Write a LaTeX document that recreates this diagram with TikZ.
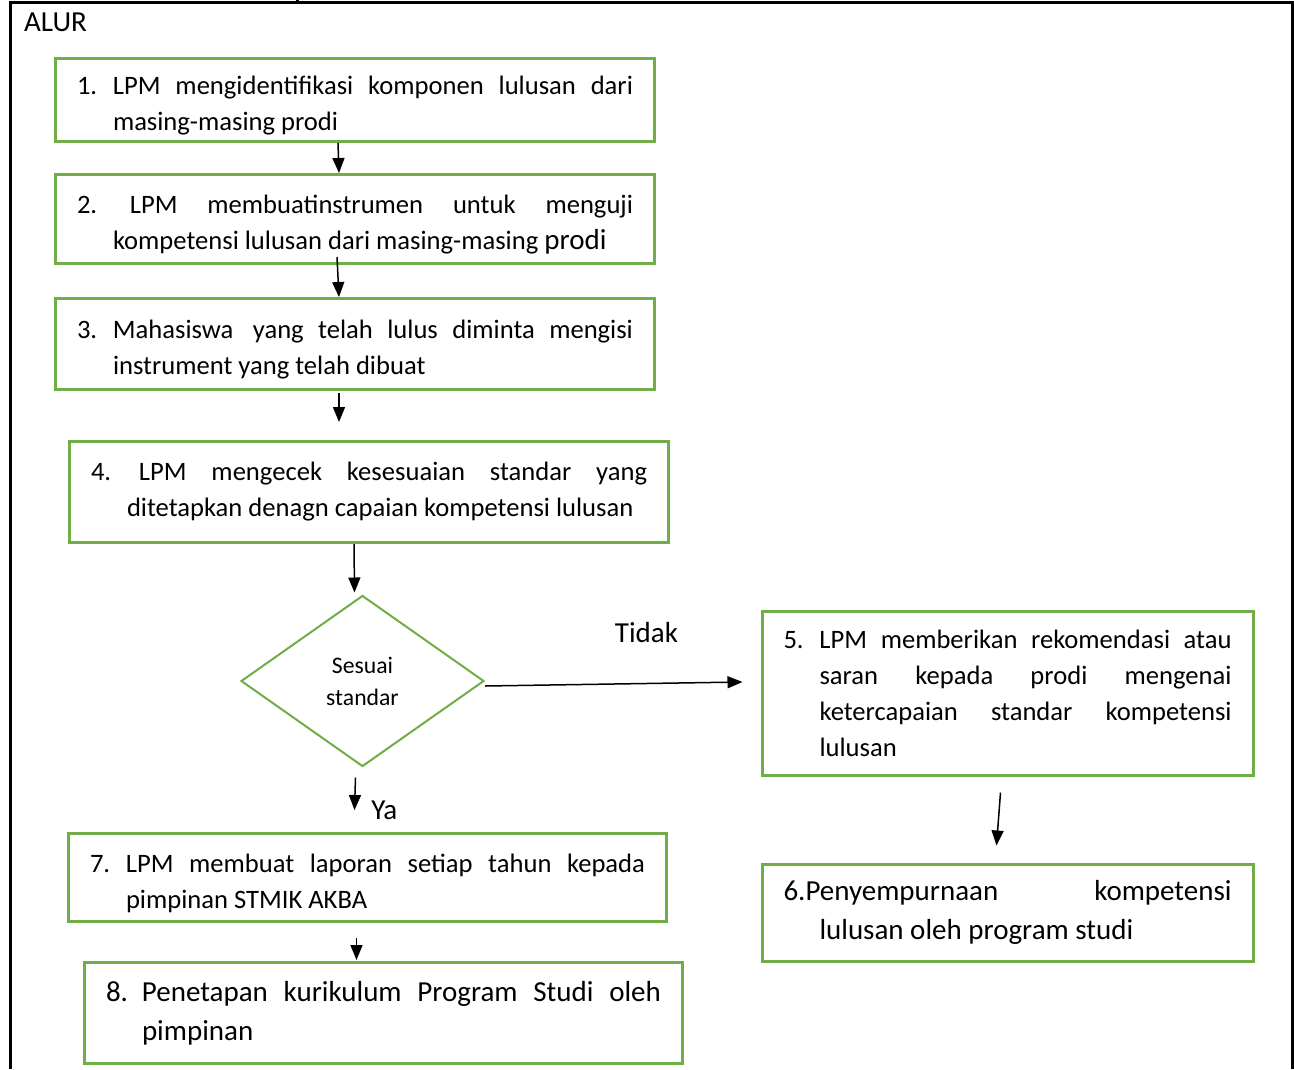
\documentclass[tikz,border=0pt]{standalone}
\usepackage{fontspec}
\setmainfont{Carlito}
\usepackage{xcolor}
\usetikzlibrary{arrows.meta, shapes.geometric, positioning}

\definecolor{boxgreen}{RGB}{112,173,71}
\newcommand{\txtnormal}{\fontsize{26.6pt}{36pt}\selectfont}
\newcommand{\txtbig}{\fontsize{29pt}{39pt}\selectfont}
\newcommand{\txtsmall}{\fontsize{23.7pt}{32pt}\selectfont}
\newcommand{\numtext}[2]{\hangindent=36pt\hangafter=1\noindent\makebox[36pt][l]{#1}#2\par}
\newcommand{\lowstrut}{\rule{0pt}{30pt}}

\begin{document}
\begin{tikzpicture}[
  x=1pt, y=-1pt,
  font=\txtnormal,
  stepbox/.style={
    draw=boxgreen,
    line width=3pt,
    rectangle,
    align=justify,
    inner xsep=21.5pt,
    inner ysep=0pt
  },
  decision/.style={
    draw=boxgreen,
    line width=2pt,
    diamond,
    align=center,
    inner sep=0pt,
    minimum width=243pt,
    minimum height=171pt,
    font=\txtsmall
  },
  arrow/.style={-{Triangle[length=15pt,width=12pt]}, line width=1.5pt}
]
\useasboundingbox (0,0) rectangle (1294,1069);

% Rahmen
\draw[line width=3pt] (10,1069) -- (10,2.5) -- (1292,2.5) -- (1292,1069);
\draw[line width=3pt] (297,0) -- (297,2.5);
\node[anchor=west, inner sep=0pt, font=\txtbig] (alur) at (24,22) {ALUR};

% Langkah
\node[stepbox, anchor=north west, text width=556pt, minimum height=83pt] (b1) at (54,57)
  {\numtext{1.}{\lowstrut LPM mengidentifikasi komponen lulusan dari\linebreak masing-masing prodi}};
\node[stepbox, below=30pt of b1, text width=556pt, minimum height=89pt] (b2)
  {\numtext{2.}{\lowstrut\hspace*{17pt}LPM membuatinstrumen untuk menguji\linebreak kompetensi lulusan dari masing-masing {\txtbig prodi}}};
\node[stepbox, below=32pt of b2, text width=556pt, minimum height=91pt] (b3)
  {\numtext{3.}{\lowstrut Mahasiswa\hspace{5pt} yang telah lulus diminta mengisi\linebreak instrument yang telah dibuat}};
\node[stepbox, below=49pt of b3, xshift=14pt, text width=556pt, minimum height=101pt] (b4)
  {\numtext{4.}{\hspace*{12pt}LPM mengecek kesesuaian standar yang\linebreak ditetapkan denagn capaian kompetensi lulusan}};
\node[decision, below=50.5pt of b4, xshift=-6.5pt] (dec) {Sesuai\\standar};
\node[stepbox, right=275.5pt of dec, yshift=-12pt, text width=448pt, minimum height=164pt] (b5)
  {\numtext{5.}{LPM memberikan rekomendasi atau\linebreak saran kepada prodi mengenai\linebreak ketercapaian standar kompetensi\linebreak lulusan}};
\node[stepbox, below=86pt of b5, text width=448pt, minimum height=97pt, font=\txtbig] (b6)
  {\hangindent=36pt\hangafter=1\noindent 6.Penyempurnaan kompetensi\linebreak lulusan oleh program studi\par};
\node[stepbox, below=64.5pt of dec, xshift=5pt, text width=555pt, minimum height=88pt] (b7)
  {\numtext{7.}{\lowstrut LPM membuat laporan setiap tahun kepada\linebreak pimpinan STMIK AKBA}};
\node[stepbox, below=38pt of b7, xshift=16pt, text width=555pt, minimum height=101pt, font=\txtbig] (b8)
  {\numtext{8.}{Penetapan kurikulum Program Studi oleh\linebreak pimpinan}};

% Panah
\draw[arrow] ([xshift=-17pt]b1.south) -- ([xshift=-16pt]b2.north);
\draw[arrow] ([xshift=-18pt,yshift=8pt]b2.south) -- ([xshift=-16pt]b3.north);
\draw[arrow] ([xshift=-16pt,yshift=-2pt]b3.south) -- ([xshift=-30pt,yshift=18pt]b4.north);
\draw[arrow] ([xshift=-15pt]b4.south) -- ([xshift=-8pt,yshift=2pt]dec.north);
\draw[arrow] ([xshift=-7pt,yshift=-10pt]dec.south) -- ([xshift=-13pt,yshift=22pt]b7.north)
  node[anchor=west, inner sep=0pt, xshift=16pt, font=\txtbig] {Ya};
\draw[arrow] ([yshift=-5pt]dec.east) -- ([xshift=-18pt,yshift=11pt]b5.west)
  node[pos=0.627, yshift=51pt, inner sep=0pt, font=\txtbig] {Tidak};
\draw[arrow] ([xshift=-7pt,yshift=-16pt]b5.south) -- ([xshift=-11pt,yshift=17pt]b6.north);
\draw[arrow] ([xshift=-11pt,yshift=-15pt]b7.south) -- ([xshift=-27pt,yshift=1pt]b8.north);

\end{tikzpicture}
\end{document}
